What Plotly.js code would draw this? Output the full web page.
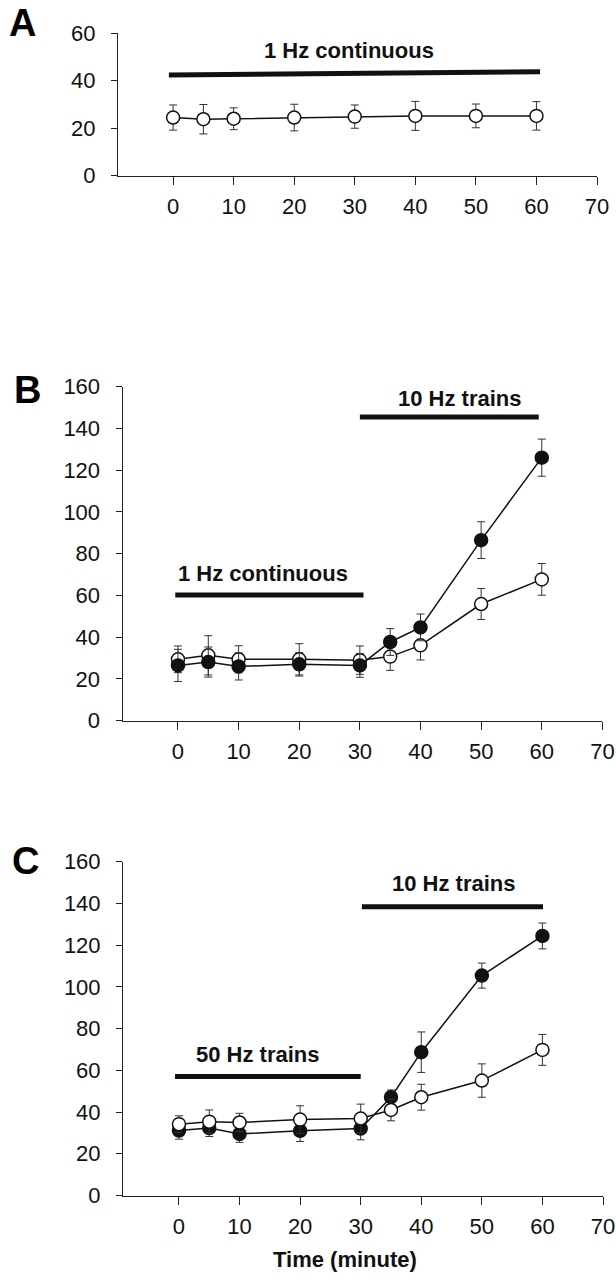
<!DOCTYPE html>
<html>
<head>
<meta charset="utf-8">
<script src="https://cdn.plot.ly/plotly-3.0.1.min.js"></script>
<style>html,body{margin:0;padding:0;background:#fff;}#chart{width:616px;height:1280px;}</style>
</head>
<body>
<div id="chart"></div>
<script>
// ---- data ----
const timeA = [0, 5, 10, 20, 30, 40, 50, 60];
const openA = [24.4, 23.7, 23.9, 24.4, 24.8, 25.1, 25.1, 25.1];
const openAErr = [5.3, 6.2, 4.6, 5.6, 4.9, 6.1, 5.0, 6.0];

const timeBC = [0, 5, 10, 20, 30, 35, 40, 50, 60];
const filledB = [26.5, 28.1, 26.0, 27.0, 26.5, 37.7, 44.7, 86.5, 126.0];
const filledBErr = [7.7, 7.2, 6.5, 5.6, 5.7, 6.4, 6.4, 8.8, 8.9];
const openB = [29.4, 31.3, 29.4, 29.4, 29.0, 30.7, 36.1, 55.9, 67.7];
const openBErr = [6.4, 9.4, 6.5, 7.5, 6.8, 6.6, 7.0, 7.4, 7.6];

const filledC = [31.1, 32.3, 29.5, 31.0, 32.1, 47.1, 68.7, 105.4, 124.4];
const filledCErr = [4.1, 4.0, 4.0, 5.1, 5.4, 3.5, 9.7, 6.0, 6.2];
const openC = [34.2, 35.4, 35.0, 36.4, 36.9, 41.0, 47.1, 55.1, 69.8];
const openCErr = [4.0, 5.6, 4.4, 6.6, 6.9, 5.2, 6.2, 8.0, 7.4];

const xTicks = [0, 10, 20, 30, 40, 50, 60, 70];
const panelLetters = ['A', 'B', 'C'];
const xAxisTitle = 'Time (minute)';

// stimulation periods: [label, start, end, barLevelStart, barLevelEnd, labelLevel, labelCenter]
const periodsA = [['1 Hz continuous', -0.7, 60.6, 42.3, 43.7, 52.5, 29]];
const periodsB = [['1 Hz continuous', -0.45, 30.6, 60.2, 60.2, 70.6, 14.1],
                  ['10 Hz trains', 30.0, 59.5, 145.5, 145.5, 154.4, 46.5]];
const periodsC = [['50 Hz trains', -0.65, 30.0, 57.0, 57.0, 67.4, 13.0],
                  ['10 Hz trains', 30.2, 60.1, 138.4, 138.4, 149.6, 45.4]];

// ---- styling ----
const FONT = 'Liberation Sans, Arial, Helvetica, sans-serif';
const ink = '#111';

function series(x, y, err, filled, xa, ya) {
  return {
    x: x, y: y, xaxis: xa, yaxis: ya, type: 'scatter', mode: 'lines+markers',
    line: {color: ink, width: 1.5},
    marker: {symbol: 'circle', size: 13, color: filled ? ink : '#fff',
             line: {color: ink, width: 1.5}},
    error_y: {type: 'data', array: err, visible: true, color: '#333', thickness: 1, width: 4},
    hoverinfo: 'skip', showlegend: false
  };
}

const traces = [
  series(timeA, openA, openAErr, false, 'x', 'y'),
  series(timeBC, openB, openBErr, false, 'x2', 'y2'),
  series(timeBC, filledB, filledBErr, true, 'x2', 'y2'),
  series(timeBC, filledC, filledCErr, true, 'x3', 'y3'),
  series(timeBC, openC, openCErr, false, 'x3', 'y3')
];

function xAxis(domain, anchor, left) {
  return {
    domain: domain, anchor: anchor, range: [left, 70],
    tickvals: xTicks, ticktext: xTicks.map(String),
    showline: true, linecolor: '#222', linewidth: 1,
    ticks: 'outside', ticklen: 8, tickwidth: 1, tickcolor: '#222',
    ticklabelstandoff: 3,
    showgrid: false, zeroline: false,
    tickfont: {family: FONT, size: 22, color: ink}
  };
}
function yAxis(domain, anchor, max) {
  return {
    domain: domain, anchor: anchor, range: [0, max], dtick: 20, tick0: 0,
    showline: true, linecolor: '#222', linewidth: 1,
    ticks: 'outside', ticklen: 6, tickwidth: 1, tickcolor: '#222',
    ticklabelstandoff: 11,
    showgrid: false, zeroline: false,
    tickfont: {family: FONT, size: 22, color: ink}
  };
}

const shapes = [];
const annotations = [];
function addPeriods(periods, xr, yr) {
  periods.forEach(p => {
    shapes.push({type: 'line', xref: xr, yref: yr, x0: p[1], x1: p[2], y0: p[3], y1: p[4],
                 line: {color: ink, width: 5}});
    annotations.push({xref: xr, yref: yr, x: p[6], y: p[5], text: '<b>' + p[0] + '</b>',
                      showarrow: false, font: {family: FONT, size: 22, color: ink},
                      xanchor: 'center', yanchor: 'middle'});
  });
}
addPeriods(periodsA, 'x', 'y');
addPeriods(periodsB, 'x2', 'y2');
addPeriods(periodsC, 'x3', 'y3');

const letterPos = [[22, 0], [27, 390], [25, 861]];
panelLetters.forEach((L, i) => {
  annotations.push({xref: 'paper', yref: 'paper', x: letterPos[i][0] / 616, y: 1 - letterPos[i][1] / 1280,
                    text: '<b>' + L + '</b>', showarrow: false, xanchor: 'center',
                    yanchor: i === 0 ? 'top' : 'middle',
                    font: {family: FONT, size: 38, color: '#000'}});
});
annotations.push({xref: 'paper', yref: 'paper', x: 345 / 616, y: 1 - 1259 / 1280,
                  text: '<b>' + xAxisTitle + '</b>', showarrow: false, xanchor: 'center', yanchor: 'middle',
                  font: {family: FONT, size: 22, color: ink}});

const layout = {
  width: 616, height: 1280,
  margin: {l: 0, r: 0, t: 0, b: 0},
  paper_bgcolor: '#fff', plot_bgcolor: '#fff',
  showlegend: false,
  xaxis: xAxis([118 / 616, 597 / 616], 'y', -9.1),
  yaxis: yAxis([1 - 175.5 / 1280, 1 - 33 / 1280], 'x', 60),
  xaxis2: xAxis([122.5 / 616, 602.4 / 616], 'y2', -9.15),
  yaxis2: yAxis([1 - 720.7 / 1280, 1 - 386.7 / 1280], 'x2', 160),
  xaxis3: xAxis([123 / 616, 603 / 616], 'y3', -9.24),
  yaxis3: yAxis([1 - 1195.5 / 1280, 1 - 861.7 / 1280], 'x3', 160),
  shapes: shapes,
  annotations: annotations
};

Plotly.newPlot('chart', traces, layout, {staticPlot: true, displayModeBar: false});
</script>
</body>
</html>
